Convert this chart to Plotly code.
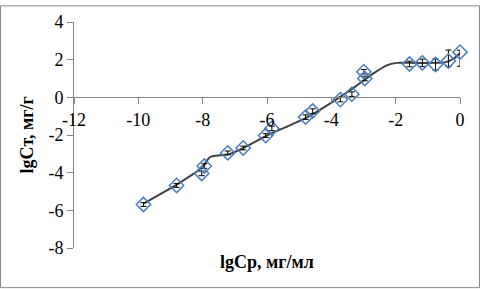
import plotly.graph_objects as go

# Data points (lgCp, lgCt)
x_pts = [-9.84, -8.81, -8.03, -7.95, -7.22, -6.74, -6.04, -5.85, -4.80, -4.58,
         -3.72, -3.36, -2.99, -2.96, -1.57, -1.17, -0.76, -0.36, 0.0]
y_pts = [-5.69, -4.68, -4.04, -3.65, -2.95, -2.69, -2.03, -1.65, -1.05, -0.73,
         -0.12, 0.17, 1.36, 1.0, 1.77, 1.83, 1.74, 1.93, 2.4]
err_plus = [0.1, 0.1, 0.12, 0.12, 0.1, 0.1, 0.1, 0.12, 0.12, 0.12,
            0.12, 0.12, 0.12, 0.12, 0.15, 0.2, 0.3, 0.58, 0.1]
err_minus = [0.1, 0.1, 0.12, 0.12, 0.1, 0.1, 0.1, 0.12, 0.12, 0.12,
             0.12, 0.12, 0.12, 0.12, 0.15, 0.2, 0.3, 0.3, 0.75]

# Fitted curve
x_fit = [-9.84, -8.81, -8.03, -7.77, -7.46, -7.2, -6.74, -6.01, -4.77,
         -3.32, -2.69, -2.28, -1.97, -1.55, -0.76, -0.45, -0.2, 0.0]
y_fit = [-5.65, -4.64, -3.74, -3.17, -3.08, -3.03, -2.7, -2.03, -1.08,
         0.49, 1.27, 1.70, 1.83, 1.83, 1.83, 1.87, 2.05, 2.35]

x_ticks = [-12, -10, -8, -6, -4, -2, 0]
y_ticks = [-8, -6, -4, -2, 0, 2, 4]

W, H = 480, 289
L, R, T, B = 74, 20, 17, 41
pw, ph = W - L - R, H - T - B

FF = "Times New Roman"

fig = go.Figure()
fig.add_trace(go.Scatter(
    x=x_fit, y=y_fit, mode="lines",
    line=dict(color="#404040", width=2, shape="spline", smoothing=0.6),
    hoverinfo="skip", showlegend=False))
fig.add_trace(go.Scatter(
    x=x_pts, y=y_pts, mode="markers", cliponaxis=False,
    marker=dict(symbol="diamond-open", size=11, color="#4A7EBB",
                line=dict(width=1.5, color="#4A7EBB")),
    error_y=dict(type="data", array=err_plus, arrayminus=err_minus,
                 symmetric=False, color="#000000", thickness=1, width=3),
    showlegend=False))

fig.update_layout(
    width=W, height=H,
    margin=dict(l=L, r=R, t=T, b=B),
    paper_bgcolor="white", plot_bgcolor="white",
    font=dict(family=FF, size=18, color="black"),
    xaxis=dict(range=[-12, 0], tickvals=x_ticks, ticktext=[str(v) for v in x_ticks],
               showgrid=False, zeroline=False, showline=True, linecolor="#868686",
               linewidth=1, ticks="outside", ticklen=6, tickcolor="#868686",
               anchor="free", position=8/12,
               tickfont=dict(family=FF, size=18, color="black")),
    yaxis=dict(range=[-8, 4], tickvals=y_ticks, ticktext=[str(v) for v in y_ticks],
               showgrid=False, zeroline=False, showline=True, linecolor="#868686",
               linewidth=1, ticks="outside", ticklen=6, tickcolor="#868686",
               tickfont=dict(family=FF, size=18, color="black")),
    annotations=[
        dict(text="<b>lgCp, мг/мл</b>", xref="paper", yref="paper",
             x=(267 - L) / pw, y=(H - B - 262) / ph, showarrow=False,
             xanchor="center", yanchor="middle",
             font=dict(family=FF, size=18, color="black")),
        dict(text="<b>lgCт, мг/г</b>", xref="paper", yref="paper",
             x=(27 - L) / pw, y=(H - B - 133) / ph, showarrow=False, textangle=-90,
             xanchor="center", yanchor="middle",
             font=dict(family=FF, size=18, color="black")),
    ],
    shapes=[dict(type="rect", xref="paper", yref="paper",
                 x0=(0.5 - L) / pw, x1=(W - 0.5 - L) / pw,
                 y0=(H - B - (H - 0.5)) / ph, y1=(H - B - 0.5) / ph,
                 line=dict(color="#888888", width=1), fillcolor="rgba(0,0,0,0)",
                 layer="below")],
)

fig.write_html("out.html")
